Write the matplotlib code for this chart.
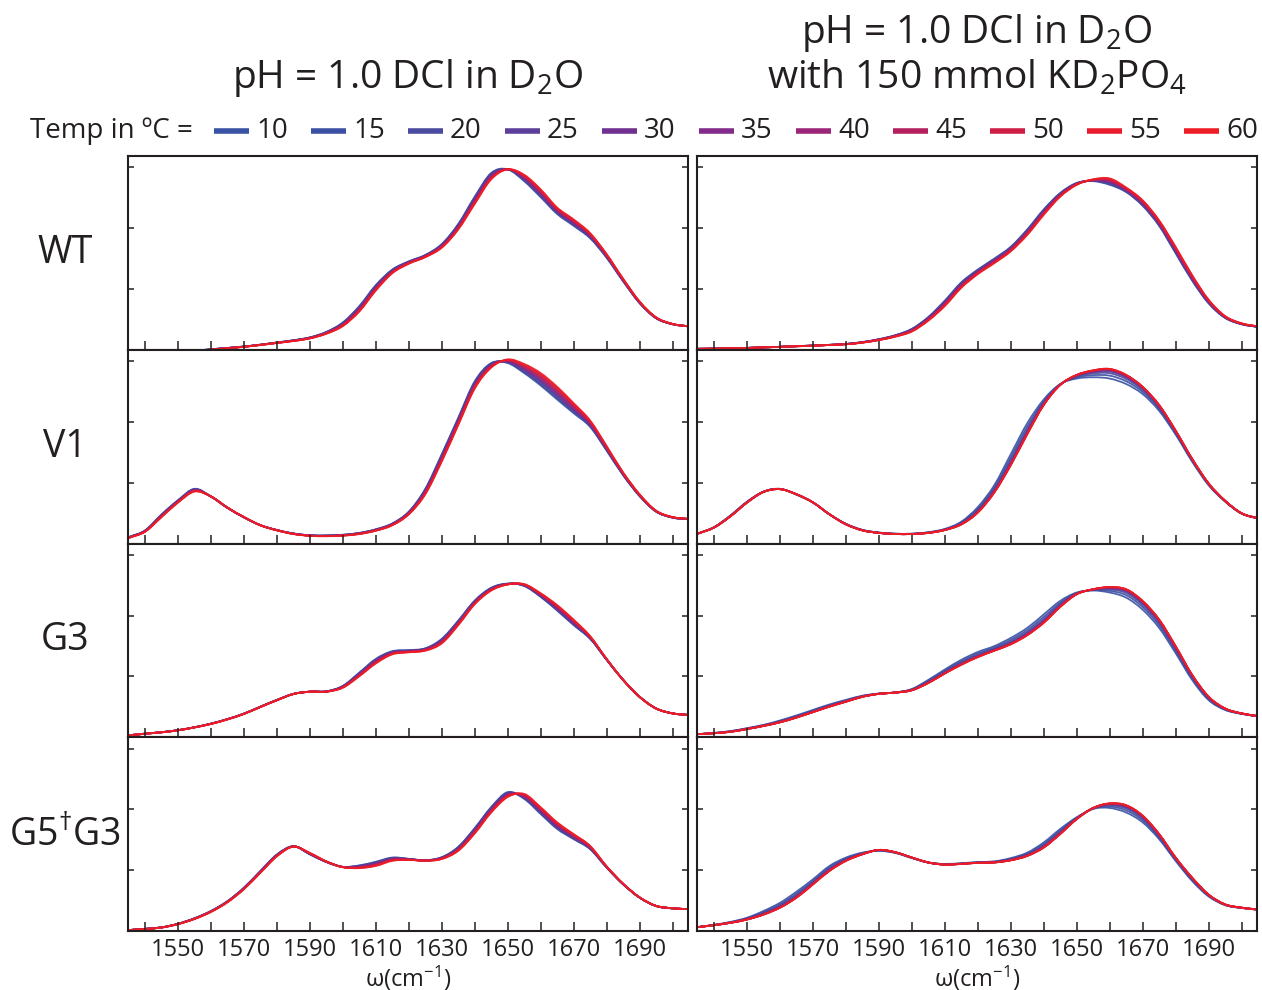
import numpy as np
import matplotlib
matplotlib.use("Agg")
import matplotlib.pyplot as plt
from matplotlib.lines import Line2D
from matplotlib.path import Path
from matplotlib.patches import PathPatch

plt.rcParams["font.family"] = ["Open Sans", "DejaVu Sans"]
plt.rcParams["mathtext.default"] = "regular"

# ---------------------------------------------------------------- data
wavenumber = np.arange(1535, 1706, 5)          # cm^-1 sample grid

temps = [10, 15, 20, 25, 30, 35, 40, 45, 50, 55, 60]
temp_colors = ["#3953a4", "#3b4fa3", "#4a4a9e", "#5b3f9a", "#70308f", "#822b8b",
               "#9b2679", "#b4205e", "#cf1e45", "#e71c2d", "#ee1c25"]

# fraction of the 10 -> 60 degC spectral change reached at each temperature
dcl_progress = [0.0, 0.1, 0.2, 0.3, 0.4, 0.5, 0.6, 0.7, 0.8, 0.9, 1.0]
kd2po4_progress = [0.0, 0.3, 0.55, 0.72, 0.82, 0.88, 0.92, 0.95, 0.97, 0.99, 1.0]
wt_kd2po4_progress = [0.0, 0.1, 0.2, 0.3, 0.4, 0.5, 0.6, 0.7, 0.8, 0.9, 1.0]

row_labels = ["WT", "V1", "G3", "G5$^{\u2020}$G3"]
col_titles = ["pH = 1.0 DCl in D$_2$O", "pH = 1.0 DCl in D$_2$O\nwith 150 mmol KD$_2$PO$_4$"]
xtick_values = list(range(1540, 1701, 10))
xtick_labels = ["", "1550", "", "1570", "", "1590", "", "1610", "", "1630", "",
                "1650", "", "1670", "", "1690", ""]

# normalised absorbance, DCl (left column)
wt_dcl_10 = [-0.01, -0.01, -0.01, -0.01, -0.005, 0.003, 0.01, 0.018, 0.028, 0.04, 0.052, 0.068,
             0.098, 0.15, 0.24, 0.355, 0.44, 0.485, 0.52, 0.58, 0.69, 0.84, 0.97, 0.99,
             0.925, 0.837, 0.745, 0.68, 0.612, 0.505, 0.376, 0.256, 0.173, 0.14, 0.128]
wt_dcl_60 = [-0.01, -0.01, -0.01, -0.01, -0.01, 0.0, 0.008, 0.016, 0.026, 0.037, 0.048, 0.062,
             0.088, 0.13, 0.21, 0.325, 0.42, 0.472, 0.508, 0.56, 0.66, 0.80, 0.935, 0.99,
             0.96, 0.88, 0.78, 0.715, 0.64, 0.525, 0.39, 0.265, 0.178, 0.142, 0.128]
v1_dcl_10 = [0.035, 0.072, 0.16, 0.238, 0.30, 0.257, 0.195, 0.143, 0.10, 0.074, 0.055, 0.045,
             0.044, 0.048, 0.058, 0.078, 0.11, 0.175, 0.30, 0.49, 0.69, 0.89, 0.99, 0.99,
             0.935, 0.867, 0.79, 0.715, 0.64, 0.51, 0.375, 0.26, 0.175, 0.142, 0.133]
v1_dcl_60 = [0.03, 0.065, 0.145, 0.225, 0.285, 0.258, 0.197, 0.145, 0.10, 0.072, 0.052, 0.042,
             0.04, 0.043, 0.052, 0.07, 0.10, 0.16, 0.27, 0.45, 0.65, 0.85, 0.965, 1.01,
             0.985, 0.935, 0.86, 0.77, 0.675, 0.535, 0.39, 0.27, 0.18, 0.145, 0.135]
g3_dcl_10 = [0.011, 0.02, 0.028, 0.039, 0.055, 0.075, 0.10, 0.13, 0.168, 0.205, 0.238, 0.25,
             0.252, 0.282, 0.355, 0.43, 0.472, 0.478, 0.488, 0.54, 0.64, 0.75, 0.82, 0.843,
             0.83, 0.77, 0.695, 0.615, 0.54, 0.425, 0.315, 0.222, 0.158, 0.131, 0.122]
g3_dcl_60 = [0.01, 0.019, 0.027, 0.038, 0.054, 0.073, 0.098, 0.128, 0.166, 0.203, 0.237, 0.25,
             0.25, 0.272, 0.335, 0.405, 0.455, 0.466, 0.475, 0.515, 0.615, 0.73, 0.805, 0.838,
             0.84, 0.79, 0.725, 0.645, 0.555, 0.43, 0.315, 0.222, 0.158, 0.131, 0.122]
g5g3_dcl_10 = [0.005, 0.012, 0.02, 0.04, 0.07, 0.11, 0.164, 0.238, 0.33, 0.42, 0.465, 0.42,
               0.378, 0.352, 0.36, 0.38, 0.403, 0.396, 0.388, 0.405, 0.462, 0.565, 0.68, 0.762,
               0.725, 0.642, 0.56, 0.504, 0.449, 0.348, 0.256, 0.183, 0.137, 0.124, 0.12]
g5g3_dcl_60 = [0.005, 0.011, 0.019, 0.038, 0.066, 0.105, 0.158, 0.23, 0.32, 0.41, 0.463, 0.428,
               0.382, 0.35, 0.345, 0.357, 0.385, 0.39, 0.385, 0.395, 0.44, 0.535, 0.65, 0.735,
               0.752, 0.679, 0.596, 0.532, 0.467, 0.355, 0.26, 0.185, 0.138, 0.125, 0.12]

# normalised absorbance, DCl + 150 mmol KD2PO4 (right column)
wt_kd2po4_10 = [0.005, 0.006, 0.008, 0.01, 0.013, 0.016, 0.02, 0.023, 0.027, 0.032, 0.042, 0.058,
                0.08, 0.115, 0.18, 0.27, 0.37, 0.44, 0.50, 0.565, 0.66, 0.77, 0.86, 0.915,
                0.925, 0.905, 0.865, 0.79, 0.68, 0.53, 0.38, 0.255, 0.175, 0.14, 0.125]
wt_kd2po4_60 = [0.005, 0.006, 0.008, 0.01, 0.013, 0.016, 0.019, 0.022, 0.026, 0.03, 0.039, 0.053,
                0.072, 0.10, 0.16, 0.24, 0.34, 0.415, 0.475, 0.54, 0.63, 0.74, 0.84, 0.905,
                0.935, 0.94, 0.89, 0.82, 0.71, 0.565, 0.41, 0.275, 0.185, 0.145, 0.128]
v1_kd2po4_10 = [0.054, 0.09, 0.155, 0.23, 0.285, 0.30, 0.268, 0.225, 0.16, 0.108, 0.075, 0.06,
                0.054, 0.054, 0.062, 0.08, 0.12, 0.20, 0.32, 0.49, 0.66, 0.79, 0.875, 0.905,
                0.912, 0.905, 0.875, 0.82, 0.728, 0.598, 0.45, 0.32, 0.23, 0.164, 0.137]
v1_kd2po4_60 = [0.054, 0.088, 0.15, 0.225, 0.283, 0.298, 0.27, 0.225, 0.16, 0.105, 0.072, 0.058,
                0.052, 0.052, 0.058, 0.074, 0.105, 0.17, 0.28, 0.43, 0.60, 0.76, 0.87, 0.925,
                0.95, 0.958, 0.925, 0.86, 0.76, 0.62, 0.465, 0.33, 0.235, 0.166, 0.138]
g3_kd2po4_10 = [0.017, 0.024, 0.034, 0.05, 0.068, 0.092, 0.12, 0.15, 0.18, 0.205, 0.228, 0.24,
                0.246, 0.265, 0.315, 0.372, 0.425, 0.468, 0.50, 0.545, 0.60, 0.674, 0.748, 0.794,
                0.805, 0.794, 0.766, 0.70, 0.60, 0.462, 0.315, 0.204, 0.15, 0.128, 0.115]
g3_kd2po4_60 = [0.017, 0.022, 0.03, 0.045, 0.062, 0.082, 0.108, 0.138, 0.168, 0.195, 0.222, 0.238,
                0.245, 0.258, 0.298, 0.35, 0.398, 0.44, 0.475, 0.51, 0.56, 0.628, 0.715, 0.785,
                0.812, 0.824, 0.812, 0.748, 0.646, 0.50, 0.343, 0.223, 0.158, 0.131, 0.116]
g5g3_kd2po4_10 = [0.022, 0.034, 0.05, 0.073, 0.11, 0.155, 0.216, 0.284, 0.357, 0.403, 0.43, 0.44,
                  0.428, 0.40, 0.375, 0.368, 0.372, 0.378, 0.382, 0.40, 0.43, 0.486, 0.56, 0.624,
                  0.67, 0.675, 0.65, 0.596, 0.504, 0.385, 0.275, 0.19, 0.142, 0.126, 0.117]
g5g3_kd2po4_60 = [0.021, 0.032, 0.045, 0.063, 0.09, 0.128, 0.183, 0.256, 0.33, 0.385, 0.421, 0.445,
                  0.432, 0.403, 0.376, 0.364, 0.368, 0.374, 0.376, 0.388, 0.412, 0.458, 0.532, 0.614,
                  0.675, 0.70, 0.69, 0.633, 0.532, 0.403, 0.293, 0.20, 0.146, 0.128, 0.118]

panels = [
    [(wt_dcl_10, wt_dcl_60, dcl_progress), (wt_kd2po4_10, wt_kd2po4_60, wt_kd2po4_progress)],
    [(v1_dcl_10, v1_dcl_60, dcl_progress), (v1_kd2po4_10, v1_kd2po4_60, kd2po4_progress)],
    [(g3_dcl_10, g3_dcl_60, dcl_progress), (g3_kd2po4_10, g3_kd2po4_60, kd2po4_progress)],
    [(g5g3_dcl_10, g5g3_dcl_60, dcl_progress), (g5g3_kd2po4_10, g5g3_kd2po4_60, kd2po4_progress)],
]


def smooth_trace(ax, x, y, **kw):
    """Draw a spectrum as a Catmull-Rom style Bezier path through its samples."""
    x = np.asarray(x, float)
    y = np.asarray(y, float)
    xp = np.concatenate([[2 * x[0] - x[1]], x, [2 * x[-1] - x[-2]]])
    yp = np.concatenate([[2 * y[0] - y[1]], y, [2 * y[-1] - y[-2]]])
    verts = [(x[0], y[0])]
    codes = [Path.MOVETO]
    for i in range(1, len(xp) - 2):
        c1 = (xp[i] + (xp[i + 1] - xp[i - 1]) / 6, yp[i] + (yp[i + 1] - yp[i - 1]) / 6)
        c2 = (xp[i + 1] - (xp[i + 2] - xp[i]) / 6, yp[i + 1] - (yp[i + 2] - yp[i]) / 6)
        verts += [c1, c2, (xp[i + 1], yp[i + 1])]
        codes += [Path.CURVE4] * 3
    ax.add_patch(PathPatch(Path(verts, codes), fill=False, **kw))


# ---------------------------------------------------------------- figure
W, H = 1262, 990
fig = plt.figure(figsize=(W / 100, H / 100), dpi=100)

col_left = [128, 697]
col_width = 560
top, bottom = 156, 931
row_h = (bottom - top) / 4

ink = "#231f20"
for r in range(4):
    y_top = top + r * row_h
    for c in range(2):
        ax = fig.add_axes([col_left[c] / W, 1 - (y_top + row_h) / H,
                           col_width / W, row_h / H])
        lo, hi, prog = panels[r][c]
        lo = np.asarray(lo)
        hi = np.asarray(hi)
        for t, col, p in zip(temps, temp_colors, prog):
            smooth_trace(ax, wavenumber, lo + p * (hi - lo), edgecolor=col, lw=1.3,
                         alpha=0.9, joinstyle="round", capstyle="round")
        ax.set_xlim(1534.8, 1704.7)
        ax.set_ylim(0, 1.063)
        ax.set_yticks([1 / 3, 2 / 3, 1.0])
        ax.set_yticklabels([])
        ax.set_xticks(xtick_values)
        ax.tick_params(axis="x", direction="in", length=6.5, width=1.1, color=ink,
                       labelsize=17, labelcolor=ink, pad=5)
        ax.tick_params(axis="y", direction="in", length=4.5, width=1.1, color=ink,
                       left=True, right=True)
        for s in ax.spines.values():
            s.set_linewidth(1.5)
            s.set_color(ink)
            s.set_zorder(3)
        if r == 3:
            ax.set_xticklabels(xtick_labels)
            ax.set_xlabel("\u03c9(cm$^{-1}$)", fontsize=17, color=ink, labelpad=1)
        else:
            ax.set_xticklabels([])
        if c == 0:
            fig.text(65 / W, 1 - (y_top + row_h / 2) / H, row_labels[r], fontsize=27,
                     color=ink, ha="center", va="center")

# column titles
fig.text(408 / W, 1 - 78 / H, col_titles[0], fontsize=28, color=ink,
         ha="center", va="center")
fig.text(977 / W, 1 - 55 / H, col_titles[1], fontsize=28, color=ink,
         ha="center", va="center", linespacing=1.15)

# temperature key
fig.text(30 / W, 1 - 131 / H, "Temp in \u00baC =", fontsize=20, color=ink,
         ha="left", va="center")
for i, (t, col) in enumerate(zip(temps, temp_colors)):
    x0 = 214 + i * 97
    fig.add_artist(Line2D([x0 / W, (x0 + 35) / W], [1 - 131 / H, 1 - 131 / H],
                          color=col, lw=4, solid_capstyle="butt"))
    fig.text((x0 + 42) / W, 1 - 131 / H, str(t), fontsize=20, color=ink,
             ha="left", va="center")

fig.savefig("out.png", dpi=100)
